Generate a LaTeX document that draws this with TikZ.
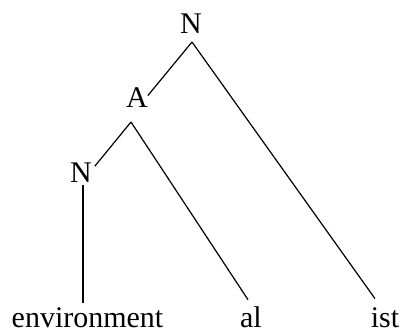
\documentclass[tikz,border=0pt]{standalone}
\usepackage{fontspec}
\setmainfont{Liberation Serif}
\usetikzlibrary{positioning}

\begin{document}
\begin{tikzpicture}[
  x=1pt, y=1pt,
  cat/.style={inner sep=0pt, outer sep=0pt, anchor=base,
              font=\fontsize{30}{36}\selectfont},
  leaf/.style={cat},
  branch/.style={line width=1.2pt}
]
\useasboundingbox (0,0) rectangle (402,-332);

%% ---------- categories ----------
\node[cat] (nTop) at (191,-33)  {N};
\node[cat] (aMid) at (137,-107) {A};
\node[cat] (nLow) at (81,-182)  {N};

%% ---------- morphemes ----------
\node[leaf] (env) at (87.5,-327) {environment};
\node[leaf] (al)  at (251,-327)  {al};
\node[leaf] (ist) at (385,-327)  {ist};

%% ---------- branches ----------
\draw[branch] ([shift={(1,-9)}]nTop.south) -- ([shift={(0,1.5)}]aMid.east);
\draw[branch] ([shift={(1,-9)}]nTop.south) -- ([shift={(-10,8.5)}]ist.north);
\draw[branch] ([shift={(-6,-15)}]aMid.south) -- ([shift={(3,6)}]nLow.east);
\draw[branch] ([shift={(-6,-15)}]aMid.south) -- ([shift={(-3,6.5)}]al.north);
\draw[branch] ([shift={(2,-3)}]nLow.south) -- ([shift={(-4.5,4.5)}]env.north);
\end{tikzpicture}
\end{document}
